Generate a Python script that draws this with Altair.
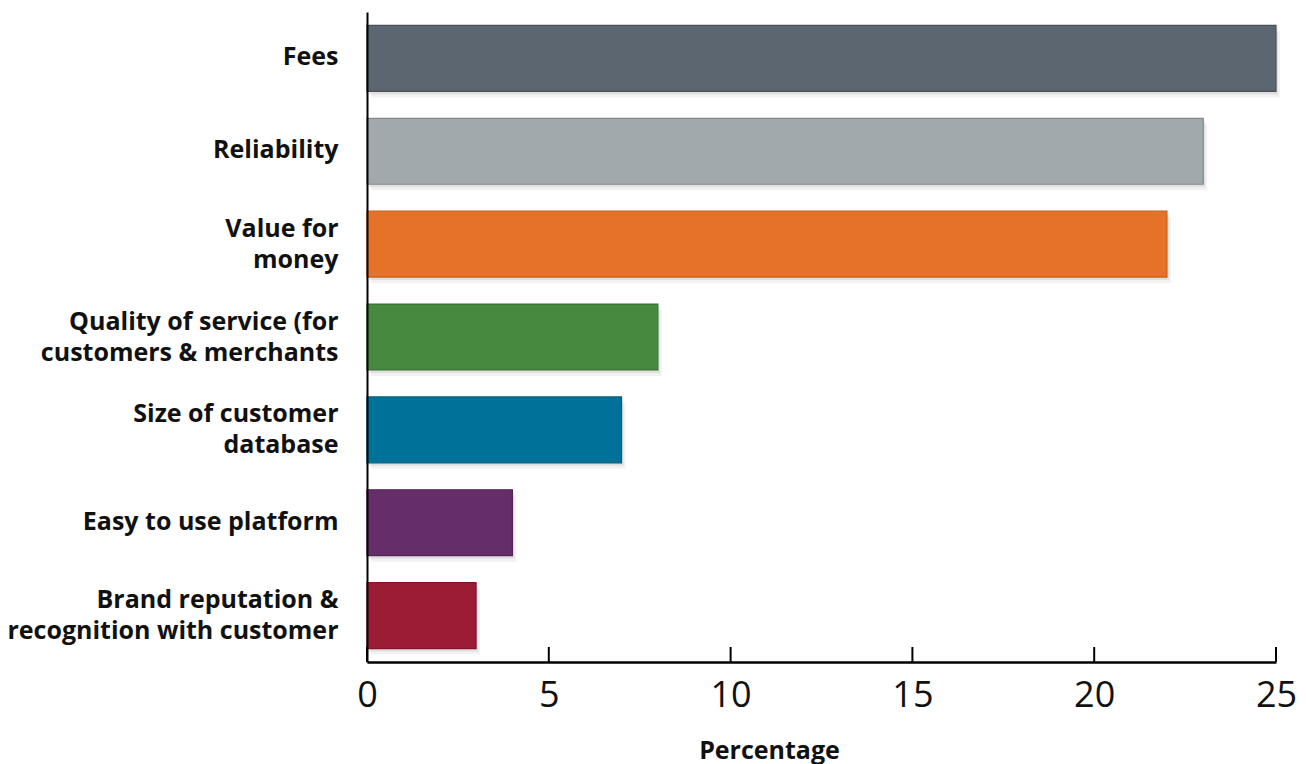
import altair as alt
import pandas as pd

categories = [
    "Fees",
    "Reliability",
    "Value for\nmoney",
    "Quality of service (for\ncustomers & merchants",
    "Size of customer\ndatabase",
    "Easy to use platform",
    "Brand reputation &\nrecognition with customer",
]
values = [25, 23, 22, 8, 7, 4, 3]
fills = ["#5c6670", "#a2a9ad", "#e57228", "#478a3f", "#007299", "#652d69", "#9c1c35"]
strokes = ["#4a5158", "#85898c", "#c95f1c", "#3a7233", "#005f80", "#522456", "#84152b"]
tick_values = [0, 5, 10, 15, 20, 25]

df = pd.DataFrame({"cat": categories, "val": values, "fill": fills, "stroke": strokes})
ticks_df = pd.DataFrame({"t": tick_values})

FONT = "Open Sans"
H = 650
W = 909

xscale = alt.Scale(domain=[0, 25], nice=False, zero=True)
yscale = alt.Scale(paddingInner=0.29, paddingOuter=0.145)

base = alt.Chart(df)

shadow1 = base.mark_bar(color="#000000", opacity=0.07, xOffset=2, yOffset=3).encode(
    x=alt.X("val:Q", scale=xscale),
    y=alt.Y("cat:N", sort=categories, scale=yscale),
)
shadow2 = base.mark_bar(color="#000000", opacity=0.05, xOffset=4, yOffset=6).encode(
    x=alt.X("val:Q", scale=xscale),
    y=alt.Y("cat:N", sort=categories, scale=yscale),
)

bars = base.mark_bar(strokeWidth=1.2).encode(
    x=alt.X(
        "val:Q",
        scale=xscale,
        axis=alt.Axis(
            values=tick_values,
            title="Percentage",
            titleFont=FONT,
            titleFontSize=25,
            titleFontWeight="bold",
            titleColor="#111111",
            titleX=402,
            titleY=96,
            titleAlign="center",
            titleBaseline="alphabetic",
            labelFont=FONT,
            labelFontSize=36,
            labelColor="#111111",
            labelBaseline="alphabetic",
            labelPadding=44,
            labelFlush=False,
            labelOverlap=False,
            ticks=False,
            tickSize=0,
            grid=False,
            domainColor="#000000",
            domainWidth=2.5,
            zindex=2,
        ),
    ),
    y=alt.Y(
        "cat:N",
        sort=categories,
        scale=yscale,
        axis=alt.Axis(
            title=None,
            labelExpr="split(datum.label, '\\n')",
            labelFont=FONT,
            labelFontSize=25,
            labelFontWeight="bold",
            labelColor="#111111",
            labelLineHeight=31,
            labelPadding=29,
            labelLimit=400,
            labelOffset={
                "condition": {"test": "indexof(datum.value, '\\n') >= 0", "value": -15.5},
                "value": -1,
            },
            ticks=False,
            tickSize=0,
            grid=False,
            domainColor="#000000",
            domainWidth=2,
            zindex=2,
        ),
    ),
    fill=alt.Fill("fill:N", scale=None),
    stroke=alt.Stroke("stroke:N", scale=None),
)

tick_marks = alt.Chart(ticks_df).mark_rule(color="#000000", strokeWidth=2).encode(
    x=alt.X("t:Q", scale=xscale),
    y=alt.value(H - 15),
    y2=alt.value(H),
)

chart = (
    alt.layer(shadow2, shadow1, bars, tick_marks)
    .properties(
        width=W,
        height=H,
        padding={"left": 359, "top": 4, "right": 22, "bottom": 102},
        autosize=alt.AutoSizeParams(type="none"),
    )
    .configure_view(stroke=None)
)

chart.save("out.html", embed_options={"renderer": "svg", "actions": False})
